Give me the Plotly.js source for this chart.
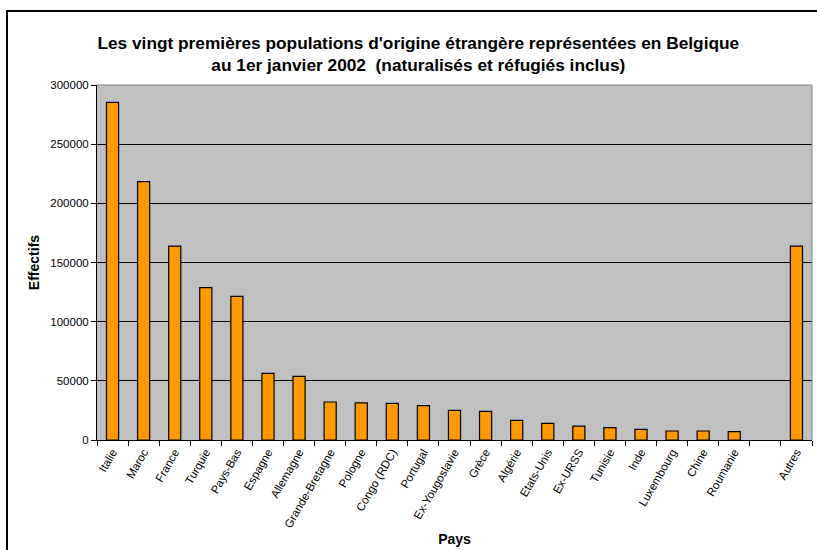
<!DOCTYPE html>
<html>
<head>
<meta charset="utf-8">
<script src="https://cdn.plot.ly/plotly-3.0.1.min.js"></script>
<style>
html,body{margin:0;padding:0;overflow:hidden;background:#fff;}
#wrap{position:relative;width:817px;height:550px;}
#chart{position:absolute;left:0;top:0;width:817px;height:550px;}
#frame{position:absolute;left:6px;top:10px;width:900px;height:700px;border:2px solid #000;pointer-events:none;}
</style>
</head>
<body>
<div id="wrap"><div id="chart"></div><div id="frame"></div></div>
<script>
const countries = ["Italie","Maroc","France","Turquie","Pays-Bas","Espagne","Allemagne","Grande-Bretagne","Pologne","Congo (RDC)","Portugal","Ex-Yougoslavie","Grèce","Algérie","Etats-Unis","Ex-URSS","Tunisie","Inde","Luxembourg","Chine","Roumanie"," ","Autres"];
const effectifs = [285400,218300,163900,128700,121400,56300,53800,32100,31300,31000,29000,25100,24200,16600,14100,11800,10400,9000,7600,7600,7000,null,163800];
const yTicks = [0,50000,100000,150000,200000,250000,300000];

const font = "Liberation Sans, Arial, sans-serif";

const trace = {
  type: "bar",
  x: countries,
  y: effectifs,
  width: 0.39,
  marker: {color: "#FF9900", line: {color: "#000000", width: 1.2}},
  hoverinfo: "x+y"
};

const layout = {
  width: 817, height: 550,
  margin: {l: 97, r: 5, t: 85, b: 110},
  paper_bgcolor: "rgba(0,0,0,0)",
  plot_bgcolor: "#C0C0C0",
  showlegend: false,
  font: {family: font, color: "#000"},
  title: {
    text: "Les vingt premières populations d'origine étrangère représentées en Belgique<br>au 1er janvier 2002  (naturalisés et réfugiés inclus)",
    font: {family: font, size: 17.3, weight: "bold", color: "#000"},
    x: 0.512, xanchor: "center",
    y: 0.911, yanchor: "middle", yref: "container"
  },
  xaxis: {
    type: "category",
    tickangle: -60,
    tickfont: {family: font, size: 11.5, color: "#000"},
    ticks: "outside", tickson: "boundaries", ticklen: 5, tickcolor: "#000",
    showline: true, linecolor: "#000", linewidth: 1,
    showgrid: false,
    mirror: false,
    title: {text: "Pays", font: {family: font, size: 14, weight: "bold"}, standoff: 5},
    automargin: false
  },
  yaxis: {
    range: [0, 300000],
    tickvals: yTicks,
    ticktext: yTicks.map(String),
    tickfont: {family: font, size: 11.5, color: "#000"},
    ticks: "outside", ticklen: 5, tickcolor: "#000",
    showline: true, linecolor: "#000", linewidth: 1,
    showgrid: true, gridcolor: "#000", gridwidth: 1,
    zeroline: false,
    title: {text: "Effectifs", font: {family: font, size: 14, weight: "bold"}, standoff: 7},
    automargin: false
  },
  shapes: [
    {type: "line", xref: "paper", yref: "paper", x0: 0, x1: 1, y0: 1, y1: 1, line: {color: "#808080", width: 1}},
    {type: "line", xref: "paper", yref: "paper", x0: 1, x1: 1, y0: 0, y1: 1, line: {color: "#808080", width: 1}}
  ]
};

Plotly.newPlot("chart", [trace], layout, {displayModeBar: false, staticPlot: true});
</script>
</body>
</html>
